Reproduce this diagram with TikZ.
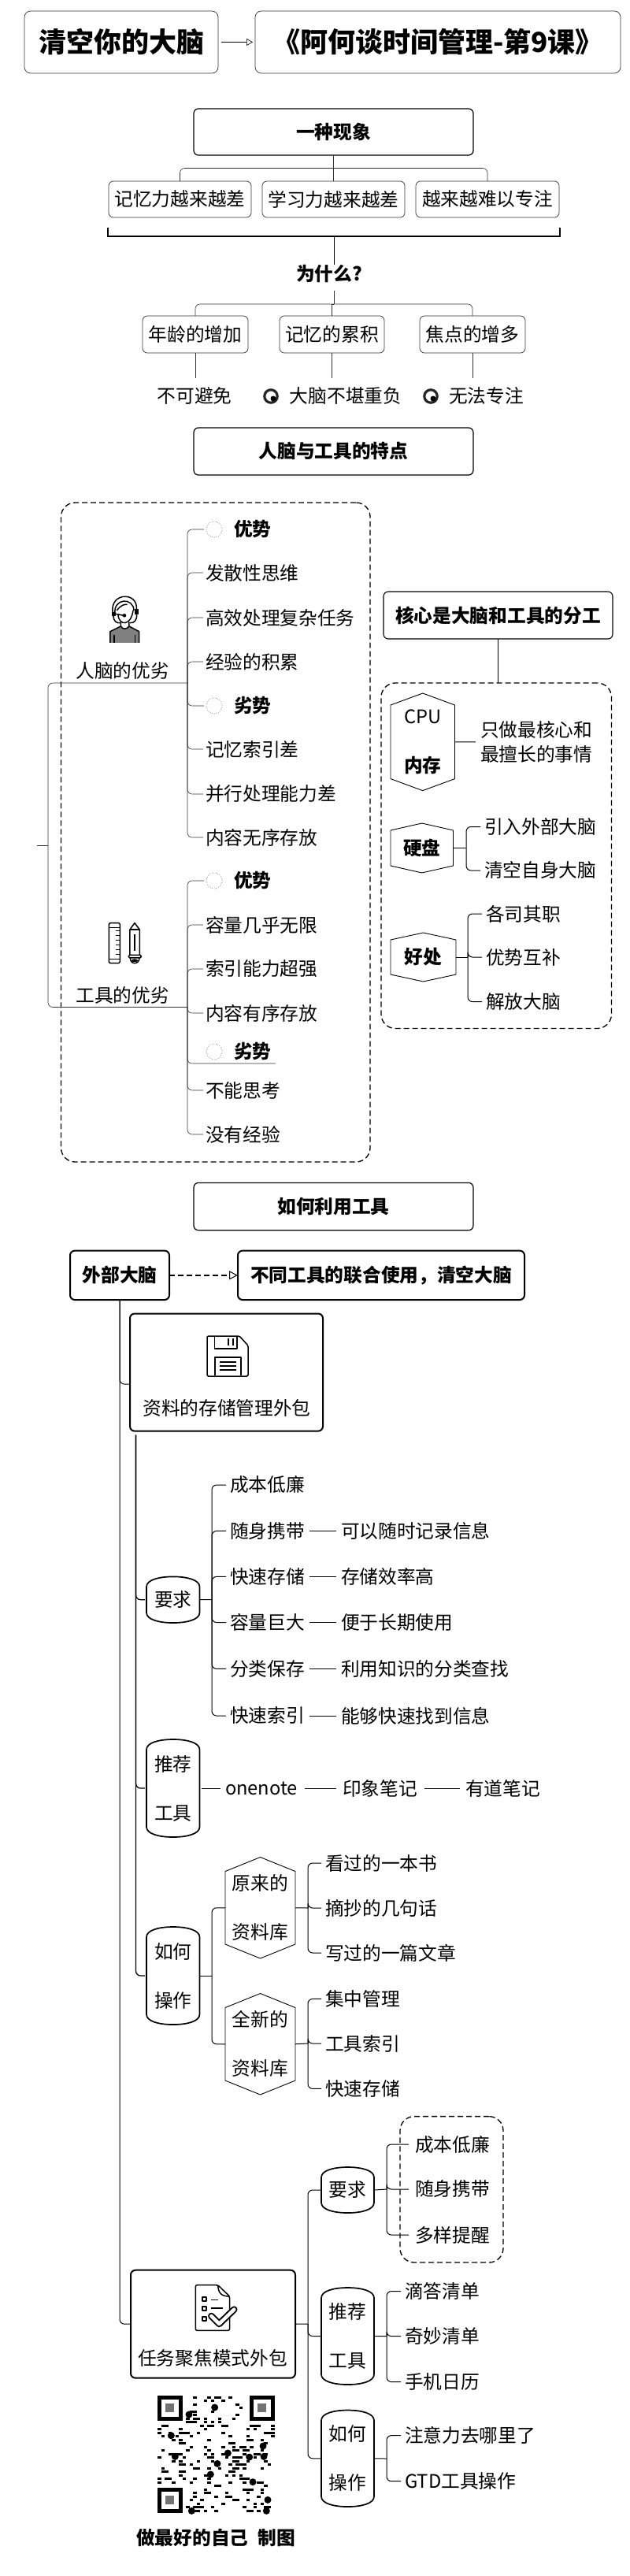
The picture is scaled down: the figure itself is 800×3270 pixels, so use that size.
\documentclass[tikz,border=0pt]{standalone}
\usepackage{fontspec}
\setmainfont{Noto Sans CJK SC}
\usetikzlibrary{arrows.meta}
\tikzset{
  lab/.style={inner sep=0pt,outer sep=0pt,font=\fontsize{23.7}{28}\selectfont},
  bold/.style={lab,font=\fontsize{23.7}{28}\selectfont\bfseries},
  titletext/.style={inner sep=0pt,outer sep=0pt,font=\fontsize{35}{40}\selectfont\bfseries},
  item/.style={lab,anchor=west},
  twolines/.style={lab,align=center,font=\fontsize{23.7}{62}\selectfont},
  thinbox/.style={lab,draw=black!80,line width=.7pt,rounded corners=6pt},
  sectionbox/.style={bold,draw=black,line width=1.2pt,rounded corners=6pt},
  heavybox/.style={bold,draw=black,line width=2pt,rounded corners=6pt},
  dashbox/.style={inner sep=0pt,outer sep=0pt,draw=black,line width=1.3pt,dash pattern=on 7pt off 4pt,rounded corners=18pt},
  conn/.style={draw=black,line width=1pt,rounded corners=6pt},
  faint/.style={draw=black!80,line width=.6pt,rounded corners=6pt},
  stub/.style={conn,shorten >=5pt},
  chain/.style={conn,shorten >=6pt,shorten <=6pt},
  barline/.style={draw=black,line width=1.7pt,line join=round},
  hexline/.style={draw=black,line width=.9pt,line join=round},
  faintcircle/.style={inner sep=0pt,outer sep=0pt,circle,minimum size=20pt,draw=black!70,line width=.6pt,dotted},
  icon/.style={line width=1.5pt,draw=black,line join=round},
}
% style, name, x1, y1, x2, y2, text
\newcommand\boxnode[7]{\node[#1,minimum width={(#5-#3)*1pt},minimum height={(#6-#4)*1pt}] (#2) at ({(#3+#5)/2},{(#4+#6)/2}) {#7};}
% style, name, x1, y1, x2, y2, text
\newcommand\barrelnode[7]{\boxnode{#1}{#2}{#3}{#4}{#5}{#6}{#7}
 \draw[barline] (#3,{#4+13}) .. controls (#3,{#4+4}) and ({#3+16},#4) .. ({(#3+#5)/2},#4) .. controls ({#5-16},#4) and (#5,{#4+4}) .. (#5,{#4+13}) -- (#5,{#6-13}) .. controls (#5,{#6-4}) and ({#5-16},#6) .. ({(#3+#5)/2},#6) .. controls ({#3+16},#6) and (#3,{#6-4}) .. (#3,{#6-13}) -- cycle;}
% style, name, x1, y1, x2, y2, shoulder, text
\newcommand\hexnode[8]{\boxnode{#1}{#2}{#3}{#4}{#5}{#6}{#8}
 \draw[hexline] (#3,{#4+#7}) -- ({(#3+#5)/2},#4) -- (#5,{#4+#7}) -- (#5,{#6-#7}) -- ({(#3+#5)/2},#6) -- (#3,{#6-#7}) -- cycle;}
\newcommand\darkdisc[1]{%
 \draw[line width=3.2pt,black!85] (#1) circle (8.2pt);
 \fill[black] (#1) ++(3pt,-3pt) circle (3.5pt);}
\begin{document}
\begin{tikzpicture}[x=1pt,y=-1pt]
\useasboundingbox (0,0) rectangle (800,3270);
\fill[white] (0,0) rectangle (800,3270);

%% title
\boxnode{titletext,draw=black!80,line width=.7pt,rounded corners=8pt}{t1}{31}{14}{277}{93}{清空你的大脑}
\boxnode{titletext,draw=black!80,line width=.7pt,rounded corners=8pt}{t2}{324}{14}{788}{93}{《阿何谈时间管理-第9课》}
\draw[line width=1.3pt,-{Triangle[open,length=8pt,width=9pt,line width=.6pt]},shorten <=4pt,shorten >=3pt] (t1.east) -- (t2.west);

%% section 1
\boxnode{sectionbox}{s1}{246}{138}{601}{197}{\bfseries 一种现象}
\boxnode{thinbox}{c1}{138}{230}{319}{276}{记忆力越来越差}
\boxnode{thinbox}{c2}{333}{230}{514}{276}{学习力越来越差}
\boxnode{thinbox}{c3}{528}{230}{710}{276}{越来越难以专注}
\coordinate (j1) at (424,213.5);
\draw[faint] (s1.south) -- (c2.north);
\draw[faint] (j1) -| (c1.north);
\draw[faint] (j1) -| (c3.north);
\coordinate (brL) at (137,289); \coordinate (brR) at (711,289);
\coordinate (brM) at (424,300);
\draw[line width=2.6pt,line join=miter] (brL) |- (brR |- brM) -- (brR);
\node[bold] (why) at (418,347.5) {为什么?};
\draw[line width=1pt] (brM) -- (why.north -| brM);
\coordinate (whys) at (424,369);
\coordinate (j2) at (424,386);
\draw[faint] (whys) -- (j2);
\boxnode{thinbox}{w1}{181}{401}{315}{448}{年龄的增加}
\boxnode{thinbox}{w2}{355}{401}{488}{448}{记忆的累积}
\boxnode{thinbox}{w3}{533}{401}{667}{448}{焦点的增多}
\draw[faint] (j2) -| (w1.north);
\draw[faint] (j2) -| (w3.north);
\draw[faint,rounded corners=0pt] (j2) -| (w2.north);
\node[lab] (r1) at (247,502.5) {不可避免};
\node[lab] (r2) at (439,502.5) {大脑不堪重负};
\node[lab] (r3) at (617.5,502.5) {无法专注};
\draw[faint] (w1.south) -- (w1.south |- 0,480);
\draw[faint] (w2.south) -- (w2.south |- 0,480);
\draw[faint] (w3.south) -- (w3.south |- 0,480);
\darkdisc{344,503}
\darkdisc{547,503}

%% section 2
\boxnode{sectionbox}{s2}{246}{543}{601}{603}{\bfseries 人脑与工具的特点}
\boxnode{dashbox}{dl}{77.5}{638}{470}{1475}{}

\node[lab] (h1) at (155.6,851.4) {人脑的优劣};
\node[lab] (h2) at (155.6,1263) {工具的优劣};
\coordinate (root) at (47,1073.6);
\coordinate (rootj) at (61,1073.6);
\coordinate (hj1) at (238,867);
\coordinate (hj2) at (238,1278.5);
\draw[faint] (root) -- (rootj);
\draw[faint] (rootj) |- (hj1);
\draw[faint] (rootj) |- (hj2);

\node[faintcircle] (ia1) at (272,672) {};
\node[faintcircle] (ia2) at (272,896) {};
\node[faintcircle] (ib1) at (272,1118) {};
\node[faintcircle] (ib2) at (272,1335) {};
\node[bold,anchor=west] at (297,672) {优势};
\node[bold,anchor=west] at (297,896) {劣势};
\node[bold,anchor=west] at (297,1118) {优势};
\node[bold,anchor=west] at (297,1335) {劣势};
\node[item] (a2) at (261,727) {发散性思维};
\node[item] (a3) at (261,784) {高效处理复杂任务};
\node[item] (a4) at (261,840) {经验的积累};
\node[item] (a6) at (261,951) {记忆索引差};
\node[item] (a7) at (261,1008) {并行处理能力差};
\node[item] (a8) at (261,1063) {内容无序存放};
\node[item] (b2) at (261,1174) {容量几乎无限};
\node[item] (b3) at (261,1230) {索引能力超强};
\node[item] (b4) at (261,1286) {内容有序存放};
\node[item] (b6) at (261,1384) {不能思考};
\node[item] (b7) at (261,1440) {没有经验};
\foreach \c in {ia1,a2,a3,a4,ia2,a6,a7,a8} \draw[faint,shorten >=3pt] (hj1) |- (\c.west);
\foreach \c in {ib1,b2,b3,b4,b6,b7} \draw[faint,shorten >=3pt] (hj2) |- (\c.west);
\coordinate (uline) at (350,1350);
\draw[faint] (hj2) |- (uline);

%% person icon
\begin{scope}[shift={(120,740)},x=.333pt,y=-.333pt]
 \draw[icon] (70,115) .. controls (55,35) and (170,30) .. (160,105);
 \draw[icon] (78,120) .. controls (70,55) and (150,55) .. (150,105);
 \draw[icon,fill=black] (68,112) rectangle (78,124);
 \draw[icon,fill=black] (156,100) rectangle (166,118);
 \draw[icon] (72,126) .. controls (72,145) and (85,155) .. (98,152);
 \draw[icon] (160,118) .. controls (165,140) and (150,155) .. (135,152);
 \draw[icon] (85,105) .. controls (100,85) and (115,80) .. (125,82);
 \draw[icon] (90,120) .. controls (92,165) and (140,165) .. (147,105);
 \draw[icon] (80,118) -- (112,124);
 \fill (114,124) circle (2.3pt);
 \fill[black!50] (60,228) -- (60,185) -- (100,165) .. controls (108,178) and (122,178) .. (132,165) -- (170,185) -- (170,228) -- cycle;
 \draw[icon] (60,228) -- (60,185) -- (100,165) -- (100,148);
 \draw[icon] (170,228) -- (170,185) -- (132,165) -- (132,148);
 \draw[icon] (100,165) .. controls (108,178) and (122,178) .. (132,165);
 \draw[icon] (75,197) -- (75,228);
 \draw[icon] (155,197) -- (155,228);
\end{scope}

%% tools icon
\begin{scope}[shift={(120,1160)},x=.333pt,y=-.333pt]
 \draw[icon,rounded corners=1.5pt] (55,35) rectangle (97,188);
 \draw[line width=1.2pt] (55,52) -- (97,52);
 \foreach \yy in {65,83,101,119,137,155} \draw[line width=1.2pt] (97,\yy) -- (82,\yy);
 \draw[line width=1.2pt] (55,172) -- (97,172);
 \draw[icon] (135,157) -- (135,60) -- (153,35) -- (172,60) -- (172,157);
 \draw[line width=1.2pt] (135,60) -- (172,60);
 \draw[line width=2.2pt] (153,78) -- (153,142);
 \draw[icon,rounded corners=1.5pt] (130,157) rectangle (178,168);
 \draw[icon] (136,168) .. controls (136,195) and (171,195) .. (171,168);
 \fill (153,178) ellipse (4pt and 2pt);
\end{scope}

%% core
\boxnode{sectionbox,line width=1.1pt}{core}{487}{751}{778}{811}{\bfseries 核心是大脑和工具的分工}
\boxnode{dashbox}{dr}{484}{867}{776.5}{1305.5}{}
\draw[conn] (core.south) -- (core.south |- dr.north);
\hexnode{twolines}{hx1}{496}{880}{577.5}{1003.6}{15}{CPU\\\bfseries 内存}
\node[lab,anchor=west,align=left,font=\fontsize{23.7}{30.4}\selectfont] (only) at (610,942) {只做最核心和\\最擅长的事情};
\draw[conn,shorten >=6pt] (hx1.east) -- (only.west);
\hexnode{bold}{hx2}{496}{1045}{575.5}{1108}{9}{\bfseries 硬盘}
\node[item] (d1) at (615,1049.5) {引入外部大脑};
\node[item] (d2) at (615,1105) {清空自身大脑};
\coordinate (dj) at (592,1076.5);
\draw[conn] (hx2.east) -- (dj);
\foreach \c in {d1,d2} \draw[stub] (dj) |- (\c.west);
\hexnode{bold}{hx3}{496}{1184}{579}{1246}{9}{\bfseries 好处}
\node[item] (e1) at (617,1160) {各司其职};
\node[item] (e2) at (617,1215) {优势互补};
\node[item] (e3) at (617,1271.6) {解放大脑};
\coordinate (ej) at (594,1215);
\draw[conn] (hx3.east) -- (ej);
\foreach \c in {e1,e2,e3} \draw[stub] (ej) |- (\c.west);

%% section 3
\boxnode{sectionbox}{s3}{246}{1501.4}{601}{1561.7}{\bfseries 如何利用工具}
\boxnode{heavybox}{ext}{89}{1587.6}{215}{1650}{\bfseries 外部大脑}
\boxnode{heavybox}{use}{302}{1587.6}{666}{1650}{\bfseries 不同工具的联合使用^^^^ff0c清空大脑}
\draw[line width=1.7pt,dash pattern=on 7pt off 4pt,-{Triangle[open,length=11pt,width=11pt,line width=1pt]}] (ext.east) -- (use.west);
\boxnode{heavybox,text depth=0pt}{bx1}{165}{1667.5}{410}{1816.6}{}
\node[lab] (bx1t) at (288,1787) {资料的存储管理外包};
\boxnode{heavybox}{bx2}{166}{2881.7}{375}{3018.6}{}
\node[lab] (bx2t) at (270,2994) {任务聚焦模式外包};
\coordinate (bx1in) at (165,1757);
\draw[conn] (ext.south) |- (bx1in);
\draw[conn] (ext.south) |- (bx2.west);

%% floppy icon
\draw[icon,rounded corners=1.5pt] (263,1696) -- (304,1696) -- (315,1708) -- (315,1747) -- (263,1747) -- cycle;
\draw[icon] (272.5,1696) -- (272.5,1712) -- (301,1712) -- (301,1697);
\draw[line width=1.2pt] (290,1699) -- (290,1708) (296,1699) -- (296,1708);
\draw[icon] (273,1746) -- (273,1723) -- (306,1723) -- (306,1746);
\foreach \yy in {1729,1734,1739} \draw[line width=1.4pt] (279,\yy) -- (300,\yy);

%% document icon
\begin{scope}[shift={(240,2890)},x=.333pt,y=-.333pt]
 \draw[icon,rounded corners=2pt] (25,32) -- (110,32) -- (155,75) -- (155,205) -- (25,205) -- cycle;
 \draw[icon] (110,32) .. controls (112,65) and (125,75) .. (155,75);
 \foreach \yy in {85,122,160} \draw[icon,line width=1.8pt] (50,{\yy-7}) rectangle (66,{\yy+7});
 \draw[line width=1.3pt] (85,88) -- (110,88);
 \draw[line width=1.3pt] (85,120) -- (130,120);
 \draw[line width=8.5pt,line join=round,line cap=round] (85,150) -- (115,180) -- (172,125);
 \draw[line width=4.5pt,white,line join=round,line cap=round] (85,150) -- (115,180) -- (172,125);
\end{scope}

%% main branch of box 1
\coordinate (tr) at (172.5,1821.5);
\barrelnode{lab}{req}{186}{2001.4}{253.5}{2060}{要求}
\barrelnode{twolines}{tool}{186}{2208}{253.5}{2332}{推荐\\工具}
\barrelnode{twolines}{how}{186}{2446}{253.5}{2570}{如何\\操作}
\foreach \c in {req,tool,how} \draw[conn,line width=1.3pt,shorten >=2pt] (tr) |- (\c.west);

\coordinate (rj) at (269,2030.5);
\draw[conn] (req.east) -- (rj);
\node[item] (k1) at (292,1885) {成本低廉};
\node[item] (k2) at (292,1943.4) {随身携带};
\node[item] (k3) at (292,2001.4) {快速存储};
\node[item] (k4) at (292,2059.5) {容量巨大};
\node[item] (k5) at (292,2118.4) {分类保存};
\node[item] (k6) at (292,2178) {快速索引};
\foreach \c in {k1,k2,k3,k4,k5,k6} \draw[stub] (rj) |- (\c.west);
\node[item] (v2) at (433,1943.4) {可以随时记录信息};
\node[item] (v3) at (433,2001.4) {存储效率高};
\node[item] (v4) at (433,2059.5) {便于长期使用};
\node[item] (v5) at (433,2118.4) {利用知识的分类查找};
\node[item] (v6) at (433,2178) {能够快速找到信息};
\draw[chain] (k2.east) -- (v2.west);
\draw[chain] (k3.east) -- (v3.west);
\draw[chain] (k4.east) -- (v4.west);
\draw[chain] (k5.east) -- (v5.west);
\draw[chain] (k6.east) -- (v6.west);

\node[item] (one) at (286,2270) {onenote};
\node[item] (yx) at (435,2270) {印象笔记};
\node[item] (yd) at (591,2270) {有道笔记};
\draw[conn,shorten >=6pt,shorten <=2pt] (tool.east) -- (one.west);
\draw[chain,shorten <=9pt,shorten >=8pt] (one.east) -- (yx.west);
\draw[chain,shorten <=9pt,shorten >=7pt] (yx.east) -- (yd.west);

\coordinate (hj) at (269,2508);
\draw[conn] (how.east) -- (hj);
\hexnode{twolines}{old}{286}{2357.5}{375}{2486}{18}{原来的\\资料库}
\hexnode{twolines}{new}{286}{2530.5}{375}{2659}{18}{全新的\\资料库}
\foreach \c in {old,new} \draw[conn] (hj) |- (\c.west);
\coordinate (oj) at (391,2422);
\draw[conn] (old.east) -- (oj);
\node[item] (o1) at (413,2365) {看过的一本书};
\node[item] (o2) at (413,2422) {摘抄的几句话};
\node[item] (o3) at (413,2479) {写过的一篇文章};
\foreach \c in {o1,o2,o3} \draw[stub] (oj) |- (\c.west);
\coordinate (nj) at (391,2594);
\draw[conn] (new.east) -- (nj);
\node[item] (n1) at (413,2537.4) {集中管理};
\node[item] (n2) at (413,2594) {工具索引};
\node[item] (n3) at (413,2651.4) {快速存储};
\foreach \c in {n1,n2,n3} \draw[stub] (nj) |- (\c.west);

%% branch of box 2
\coordinate (bj) at (391,2950);
\draw[conn] (bx2.east) -- (bj);
\barrelnode{lab}{req2}{408}{2751}{475}{2809}{要求}
\barrelnode{twolines}{tool2}{408}{2904}{475}{3027}{推荐\\工具}
\barrelnode{twolines}{how2}{408}{3059.5}{475}{3182}{如何\\操作}
\foreach \c in {req2,tool2,how2} \draw[conn] (bj) |- (\c.west);
\boxnode{dashbox}{dq}{508}{2686.6}{639}{2872}{}
\coordinate (qj) at (491,2779);
\draw[conn] (req2.east) -- (qj);
\node[item] (q1) at (527,2722) {成本低廉};
\node[item] (q2) at (527,2779) {随身携带};
\node[item] (q3) at (527,2837) {多样提醒};
\foreach \c in {q1,q2,q3} \draw[conn,shorten >=8pt] (qj) |- (\c.west);
\coordinate (tj) at (491,2965.6);
\draw[conn] (tool2.east) -- (tj);
\node[item] (p1) at (514,2908.5) {滴答清单};
\node[item] (p2) at (514,2965.6) {奇妙清单};
\node[item] (p3) at (514,3023.6) {手机日历};
\foreach \c in {p1,p2,p3} \draw[stub] (tj) |- (\c.west);
\coordinate (uj) at (491,3121);
\draw[conn] (how2.east) -- (uj);
\node[item] (u1) at (514,3091.6) {注意力去哪里了};
\node[item] (u2) at (514,3149.7) {GTD工具操作};
\foreach \c in {u1,u2} \draw[stub] (uj) |- (\c.west);

%% QR code
\begin{scope}[shift={(200,3041)},x=4.5pt,y=-4.5pt]
 \pgfmathsetseed{11}
 \foreach \i in {0,...,32}{\foreach \j in {0,...,32}{%
   \pgfmathrandominteger{\rr}{0}{99}%
   \pgfmathtruncatemacro{\skipit}{((\i<8)&&(\j<8))||((\i>24)&&(\j<8))||((\i<8)&&(\j>24))}%
   \ifnum\skipit=0 \ifnum\rr<22 \fill (\i,\j+.15) rectangle ++(1,.7); \fi\fi
 }}
 \foreach \fx/\fy in {0/0,26/0,0/26}{
  \draw[line width=4.5pt] (\fx+.5,\fy+.5) rectangle (\fx+6.5,\fy+6.5);
  \fill[black!55] (\fx+2.3,\fy+2.3) rectangle (\fx+4.7,\fy+4.7);
 }
\end{scope}
\foreach \qx/\qy in {248/63,150/90,82/170,432/210,97/250,298/237,380/252,435/250,258/277,232/318,393/347,450/415,160/457,445/457}
  \fill ({190+\qx/3},{3035+\qy/3}) circle (4.5pt);

\node[bold] (sig) at (274,3221) {\bfseries 做最好的自己\hspace{12pt}制图};
\end{tikzpicture}
\end{document}
